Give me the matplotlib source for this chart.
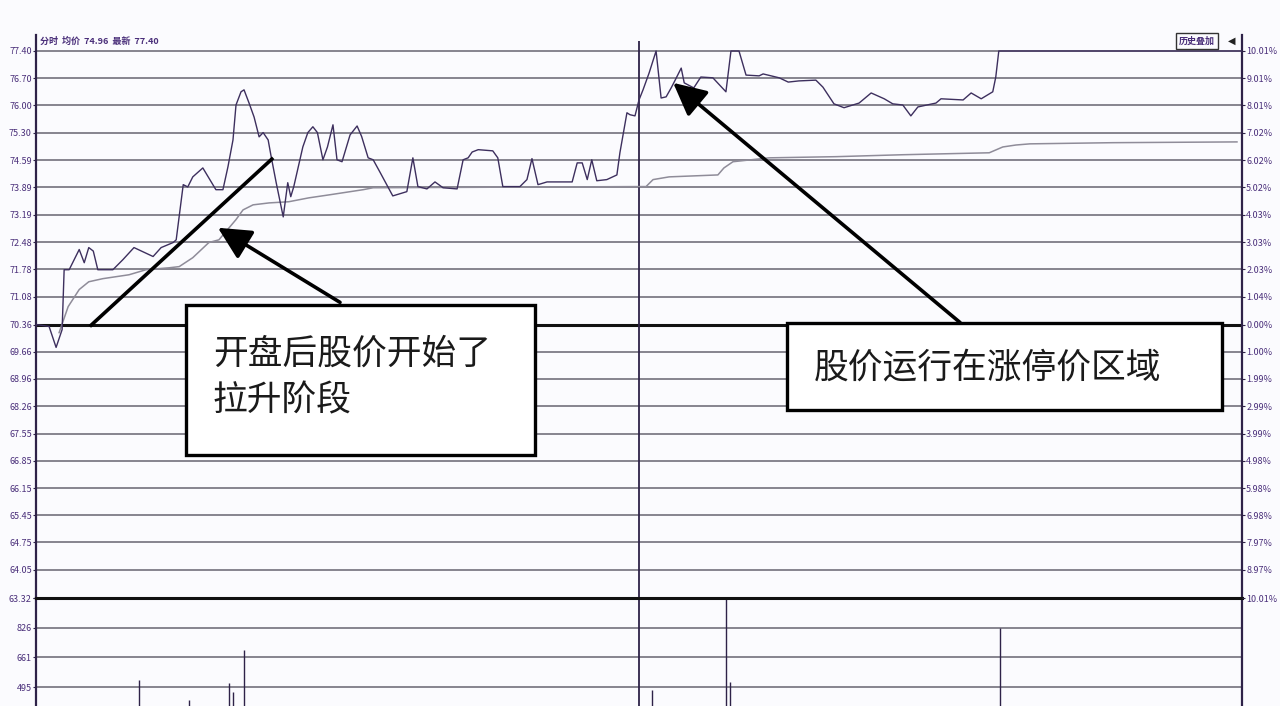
import matplotlib
matplotlib.use("Agg")
import matplotlib.pyplot as plt
from matplotlib.patches import Rectangle

plt.rcParams['font.family'] = ['Noto Sans CJK SC', 'DejaVu Sans']

# ---- 数据 ----
# 分时价格线：分钟（0-240）与价格
price_min = [0, 2.6, 4.0, 5.2, 5.6, 6.6, 8.6, 9.6, 10.5, 11.4, 12.3, 15.3, 17.3, 19.5,
             23.3, 24.9, 27.3, 27.9, 29.3, 30.2, 31.2, 33.2, 35.8, 37.2, 38.2, 39.2,
             39.8, 40.8, 41.4, 42.4, 43.4, 44.4, 45.2, 46.2, 46.8, 47.8, 49.2, 50.1,
             50.7, 51.3, 53.1, 54.1, 55.1, 56.0, 57.1, 58.0, 59.1, 59.9, 60.9, 62.5,
             63.9, 64.8, 66.1, 67.1, 68.5, 71.0, 73.8, 75.0, 76.0, 77.8, 79.4, 81.0,
             83.8, 85.0, 86.0, 86.8, 88.0, 90.9, 91.9, 92.9, 96.3, 97.7, 98.7, 99.9,
             101.7, 106.7, 107.7, 108.7, 109.7, 110.6, 111.6, 113.6, 115.6, 116.2,
             117.6, 118.2, 119.2, 120.0,
             120.8, 122.0, 123.4, 124.4, 125.4, 126.4, 127.0, 128.4, 129.0, 130.9,
             132.3, 134.7, 137.3, 138.3, 139.9, 141.3, 143.9, 144.7, 147.9, 149.7,
             151.8, 155.2, 156.6, 158.8, 160.8, 163.8, 166.2, 168.8, 170.5, 172.5,
             174.1, 175.5, 179.1, 180.1, 184.5, 186.1, 188.1, 190.4, 191.0, 191.6, 240]
price_val = [70.36, 70.31, 69.77, 70.23, 71.77, 71.77, 72.29, 71.95, 72.34, 72.25, 71.77,
             71.77, 72.03, 72.34, 72.11, 72.34, 72.47, 72.54, 73.96, 73.90, 74.16, 74.39,
             73.83, 73.83, 74.42, 75.11, 76.01, 76.35, 76.40, 76.06, 75.70, 75.19, 75.30,
             75.11, 74.68, 74.01, 73.13, 74.01, 73.65, 73.91, 74.93, 75.30, 75.45, 75.30,
             74.60, 74.93, 75.50, 74.60, 74.55, 75.24, 75.47, 75.20, 74.65, 74.60, 74.27,
             73.67, 73.78, 74.65, 73.91, 73.85, 74.03, 73.88, 73.85, 74.60, 74.65, 74.80,
             74.86, 74.83, 74.65, 73.91, 73.91, 74.09, 74.63, 73.96, 74.03, 74.03, 74.52,
             74.52, 74.09, 74.60, 74.06, 74.09, 74.21, 74.78, 75.81, 75.76, 75.73, 76.14,
             76.40, 76.83, 77.40, 76.19, 76.22, 76.45, 76.60, 76.96, 76.58, 76.45, 76.73,
             76.71, 76.35, 77.40, 77.40, 76.78, 76.76, 76.81, 76.71, 76.60, 76.63, 76.65,
             76.47, 76.04, 75.94, 76.06, 76.32, 76.17, 76.04, 76.01, 75.73, 75.96, 76.06,
             76.17, 76.14, 76.32, 76.17, 76.35, 76.73, 77.40, 77.40]

# 均价线
avg_min = [4.6, 6.4, 8.6, 10.5, 13.3, 18.5, 21.9, 26.5, 28.5, 31.2, 34.4, 36.4, 39.8,
           41.2, 43.2, 46.4, 50.3, 54.3, 58.5, 65.1, 67.1, 119.8, 121.4, 122.8, 126.0,
           135.7, 136.9, 138.7, 145.9, 159.2, 172.5, 189.7, 192.4, 195.0, 197.8, 214.3, 239.0]
avg_val = [70.15, 70.82, 71.26, 71.46, 71.54, 71.64, 71.77, 71.82, 71.85, 72.08, 72.47,
           72.54, 73.06, 73.31, 73.44, 73.49, 73.52, 73.62, 73.70, 73.83, 73.88, 73.91,
           73.91, 74.09, 74.16, 74.21, 74.39, 74.55, 74.65, 74.68, 74.73, 74.78, 74.93,
           74.98, 75.01, 75.04, 75.06]

# 成交量（仅可见部分）
vol_min = [20.5, 30.4, 38.4, 39.2, 41.4, 122.6, 137.3, 138.1, 191.8]
vol_val = [534, 422, 517, 467, 703, 478, 1050, 523, 826]

# 坐标轴刻度
price_levels = [77.40, 76.70, 76.00, 75.30, 74.59, 73.89, 73.19, 72.48, 71.78, 71.08, 70.36,
                69.66, 68.96, 68.26, 67.55, 66.85, 66.15, 65.45, 64.75, 64.05, 63.32]
price_labels = ['77.40', '76.70', '76.00', '75.30', '74.59', '73.89', '73.19', '72.48',
                '71.78', '71.08', '70.36', '69.66', '68.96', '68.26', '67.55', '66.85',
                '66.15', '65.45', '64.75', '64.05', '63.32']
pct_labels = ['10.01%', '9.01%', '8.01%', '7.02%', '6.02%', '5.02%', '4.03%', '3.03%',
              '2.03%', '1.04%', '0.00%', '1.00%', '1.99%', '2.99%', '3.99%', '4.98%',
              '5.98%', '6.98%', '7.97%', '8.97%', '10.01%']
vol_levels = [991, 826, 661, 495]
vol_labels = ['', '826', '661', '495']

W, H = 1280, 706
BG = '#fbfbfe'
GRID = '#7d7b86'
AXC = '#2e2248'
LBL = '#4a2f7a'

fig = plt.figure(figsize=(W / 100, H / 100), dpi=100, facecolor=BG)

# 成交量区（先画，价格区叠在上面）
axv = fig.add_axes([36 / W, 0, 1206 / W, (706 - 598) / H], facecolor=BG)
axv.set_xlim(0, 240)
axv.set_ylim(390, 991)
for lv in vol_levels[1:]:
    axv.axhline(lv, color=GRID, lw=1.3, zorder=1)
axv.axvline(120, color=AXC, lw=1.3, zorder=1)
axv.vlines(vol_min, 0, vol_val, color='#2e2248', lw=1.0, zorder=2)
axv.set_yticks(vol_levels)
axv.set_yticklabels(vol_labels)
axv.set_xticks([])
axv.tick_params(axis='y', length=2, pad=1, labelsize=6.5, labelcolor=LBL, color=AXC)
axv.spines['top'].set_visible(False)
axv.spines['bottom'].set_visible(False)
for side in ('left', 'right'):
    axv.spines[side].set_color(AXC)
    axv.spines[side].set_linewidth(1.6)

# 价格区
ax = fig.add_axes([36 / W, (H - 598) / H, 1206 / W, (598 - 35) / H])
ax.patch.set_alpha(0)
top = 77.40 + 16 * (77.40 - 63.32) / (598 - 51)
ax.set_xlim(0, 240)
ax.set_ylim(63.32, top)

for lv in price_levels:
    if lv in (70.36, 63.32):
        continue
    ax.axhline(lv, color=GRID, lw=1.3, zorder=1)
ax.axhline(70.36, color='#111111', lw=2.2, zorder=1)
ax.vlines(120, 63.32, top - 0.15, color=AXC, lw=1.3, zorder=1)

ax.plot(avg_min, avg_val, color='#8f8c99', lw=1.1, zorder=2)
ax.plot(price_min, price_val, color='#3d2f5e', lw=1.0, zorder=3)

ax.set_yticks(price_levels)
ax.set_yticklabels(price_labels)
ax.set_xticks([])
ax.tick_params(axis='y', length=2, pad=1, labelsize=6.5, labelcolor=LBL, color=AXC)
ax.spines['top'].set_visible(False)
for side in ('left', 'right'):
    ax.spines[side].set_color(AXC)
    ax.spines[side].set_linewidth(1.6)
ax.spines['bottom'].set_color('#111111')
ax.spines['bottom'].set_linewidth(2.2)
ax.spines['bottom'].set_zorder(10)

ax2 = ax.twinx()
ax2.set_ylim(ax.get_ylim())
ax2.set_yticks(price_levels)
ax2.set_yticklabels(pct_labels)
ax2.tick_params(axis='y', length=2, pad=1, labelsize=6.5, labelcolor=LBL, color=AXC)
for s in ax2.spines.values():
    s.set_visible(False)

# 顶部信息
fig.text(40 / W, 1 - 41 / H, '分时  均价  74.96  最新  77.40', fontsize=6.5,
         color=LBL, va='center', ha='left', fontweight='bold')
fig.text(1197 / W, 1 - 41 / H, '历史叠加', fontsize=6.5, color=LBL, va='center',
         ha='center', fontweight='bold',
         bbox=dict(boxstyle='square,pad=0.35', fc=BG, ec='#333333', lw=1.0))
fig.text(1232 / W, 1 - 41 / H, '◀', fontsize=7, color='#222222', va='center',
         ha='center', family=['DejaVu Sans'])

# 标注
ax.plot([10.7, 47.2], [70.31, 74.65], color='black', lw=2.6, zorder=5,
        solid_capstyle='butt')
ax.add_patch(Rectangle((29.9, 66.99), 99.3 - 29.9, 70.87 - 66.99, fc='white',
                       ec='black', lw=2.4, zorder=6))
ax.text(35.2, 69.0, '开盘后股价开始了\n拉升阶段', fontsize=25, color='#1a1a1a',
        va='center', ha='left', linespacing=1.45, zorder=7)
ax.annotate('', xy=(36.2, 72.85), xytext=(60.5, 70.93),
            arrowprops=dict(arrowstyle='-|>,head_length=0.5,head_width=0.25',
                            mutation_scale=40, lw=2.6, color='black',
                            shrinkA=0, shrinkB=0), zorder=6)

ax.add_patch(Rectangle((149.5, 68.15), 236.0 - 149.5, 70.41 - 68.15, fc='white',
                       ec='black', lw=2.4, zorder=6))
ax.text(154.7, 69.23, '股价运行在涨停价区域', fontsize=25, color='#1a1a1a',
        va='center', ha='left', zorder=7)
ax.annotate('', xy=(126.8, 76.58), xytext=(183.9, 70.41),
            arrowprops=dict(arrowstyle='-|>,head_length=0.5,head_width=0.25',
                            mutation_scale=40, lw=2.6, color='black',
                            shrinkA=0, shrinkB=0), zorder=6)

fig.savefig('out.png', dpi=100, facecolor=BG)
